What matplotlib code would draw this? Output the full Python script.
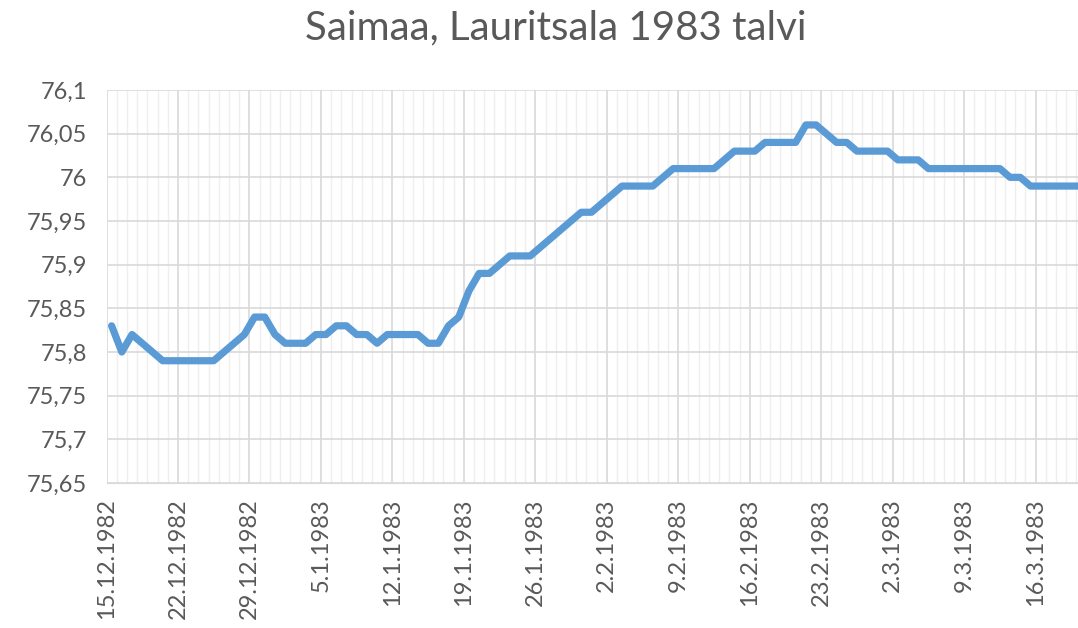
import numpy as np
import pandas as pd
import matplotlib
matplotlib.use('Agg')
import matplotlib.pyplot as plt
import matplotlib.dates as mdates
import matplotlib.ticker as mticker

plt.rcParams['font.family'] = ['Lato', 'DejaVu Sans']

# daily water level, 15.12.1982 ->
start = '1982-12-15'
levels = [75.83, 75.80, 75.82, 75.81, 75.80, 75.79, 75.79, 75.79, 75.79, 75.79,
          75.79, 75.80, 75.81, 75.82, 75.84, 75.84, 75.82, 75.81, 75.81, 75.81,
          75.82, 75.82, 75.83, 75.83, 75.82, 75.82, 75.81, 75.82, 75.82, 75.82,
          75.82, 75.81, 75.81, 75.83, 75.84, 75.87, 75.89, 75.89, 75.90, 75.91,
          75.91, 75.91, 75.92, 75.93, 75.94, 75.95, 75.96, 75.96, 75.97, 75.98,
          75.99, 75.99, 75.99, 75.99, 76.00, 76.01, 76.01, 76.01, 76.01, 76.01,
          76.02, 76.03, 76.03, 76.03, 76.04, 76.04, 76.04, 76.04, 76.06, 76.06,
          76.05, 76.04, 76.04, 76.03, 76.03, 76.03, 76.03, 76.02, 76.02, 76.02,
          76.01, 76.01, 76.01, 76.01, 76.01, 76.01, 76.01, 76.01, 76.00, 76.00,
          75.99, 75.99, 75.99, 75.99, 75.99, 75.99, 75.99]
yticks = [75.65, 75.7, 75.75, 75.8, 75.85, 75.9, 75.95, 76.0, 76.05, 76.1]

days = pd.date_range(start, periods=len(levels), freq='D')
xs = days + pd.Timedelta(hours=12)

txt = '#595959'
fig = plt.figure(figsize=(10.78, 6.28), dpi=100, facecolor='white')
ax = fig.add_axes([106.5 / 1078, 1 - 483 / 628, 1 - 106.5 / 1078, (483 - 90) / 628])

ax.plot(xs, levels, color='#5b9bd5', linewidth=5.2, solid_joinstyle='round',
        solid_capstyle='round', zorder=3)

x0 = mdates.date2num(days[0])
ax.set_xlim(x0, x0 + (1078 - 106.5) / 10.21)
ax.set_ylim(75.65, 76.1)

major = days[::7]
ax.set_xticks(major)
ax.set_xticklabels([f'{d.day}.{d.month}.{d.year}' for d in major], rotation=90,
                   fontsize=17, color=txt)
ax.xaxis.set_minor_locator(mdates.DayLocator())
ax.set_yticks(yticks)
ax.yaxis.set_major_formatter(mticker.FuncFormatter(
    lambda v, p: ('%.2f' % v).rstrip('0').rstrip('.').replace('.', ',')))
for lab in ax.get_yticklabels():
    lab.set_fontsize(17)
    lab.set_color(txt)

ax.grid(which='major', color='#d9d9d9', linewidth=1.2, zorder=0)
ax.grid(which='minor', axis='x', color='#efefef', linewidth=1, zorder=0)
ax.tick_params(which='both', length=0)
ax.tick_params(axis='x', pad=11)
ax.tick_params(axis='y', pad=14)
for s in ['top', 'right', 'left']:
    ax.spines[s].set_visible(False)
ax.spines['bottom'].set_color('#d9d9d9')
ax.set_axisbelow(True)

fig.text(0.516, 1 - 28 / 628, 'Saimaa, Lauritsala 1983 talvi', ha='center', va='center',
         fontsize=29, color=txt)

plt.savefig('out.png', dpi=100, facecolor='white')
